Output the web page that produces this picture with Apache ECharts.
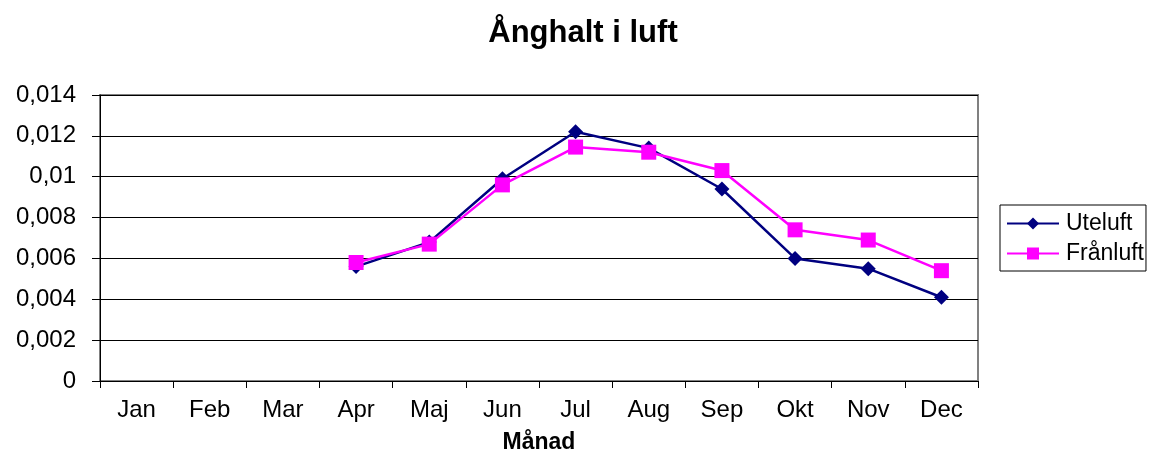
<!DOCTYPE html>
<html>
<head>
<meta charset="utf-8">
<script src="https://cdn.jsdelivr.net/npm/echarts@6/dist/echarts.min.js"></script>
<style>
html,body{margin:0;padding:0;background:#fff;}
#c{width:1149px;height:459px;}
</style>
</head>
<body>
<div id="c"></div>
<script>
const months = ['Jan','Feb','Mar','Apr','Maj','Jun','Jul','Aug','Sep','Okt','Nov','Dec'];
const uteluft = [null, null, null, 0.0056, 0.0068, 0.0099, 0.0122, 0.0114, 0.0094, 0.0060, 0.0055, 0.0041];
const franluft = [null, null, null, 0.0058, 0.0067, 0.0096, 0.01145, 0.0112, 0.0103, 0.0074, 0.0069, 0.0054];
const yTicks = [0, 0.002, 0.004, 0.006, 0.008, 0.01, 0.012, 0.014];

const FONT = '"Liberation Sans", Arial, sans-serif';
const chart = echarts.init(document.getElementById('c'), null, {renderer: 'canvas'});
chart.setOption({
  animation: false,
  backgroundColor: '#fff',
  title: {
    text: 'Ånghalt i luft',
    left: 578, top: 13, textAlign: 'center',
    textStyle: {fontFamily: FONT, fontSize: 31, fontWeight: 'bold', color: '#000'}
  },
  grid: {left: 100, right: 171, top: 95, bottom: 77, show: true, borderColor: '#808080', borderWidth: 2, backgroundColor: '#fff'},
  legend: {
    orient: 'vertical', left: 1000, top: 205,
    borderColor: '#000', borderWidth: 1, padding: [7, 2, 6, 6], itemGap: 7,
    itemWidth: 52, itemHeight: 15,
    textStyle: {fontFamily: FONT, fontSize: 23, color: '#000', padding: [0, 0, 0, 2]},
    data: ['Uteluft', 'Frånluft']
  },
  xAxis: {
    type: 'category', data: months, boundaryGap: true,
    name: 'Månad', nameLocation: 'middle', nameGap: 50,
    nameTextStyle: {fontFamily: FONT, fontSize: 23, fontWeight: 'bold', color: '#000'},
    axisLine: {lineStyle: {color: '#000', width: 1}},
    axisTick: {show: true, length: 7, alignWithLabel: false, lineStyle: {color: '#000'}},
    axisLabel: {fontFamily: FONT, fontSize: 24, color: '#000', margin: 17},
    splitLine: {show: false}
  },
  yAxis: {
    type: 'value', min: 0, max: 0.014, interval: 0.002,
    axisLine: {show: true, lineStyle: {color: '#000', width: 1}},
    axisTick: {show: true, length: 8, lineStyle: {color: '#000'}},
    axisLabel: {fontFamily: FONT, fontSize: 24, color: '#000', margin: 24,
      formatter: v => String(+(+v).toFixed(3)).replace('.', ',')},
    splitLine: {show: true, lineStyle: {color: '#000', width: 1}}
  },
  series: [
    {name: 'Uteluft', type: 'line', data: uteluft, symbol: 'diamond', symbolSize: 15,
     connectNulls: false,
     lineStyle: {color: '#000080', width: 2.5}, itemStyle: {color: '#000080'}},
    {name: 'Frånluft', type: 'line', data: franluft, symbol: 'rect', symbolSize: 15,
     connectNulls: false,
     lineStyle: {color: '#FF00FF', width: 2.5}, itemStyle: {color: '#FF00FF'}}
  ]
});
</script>
</body>
</html>
